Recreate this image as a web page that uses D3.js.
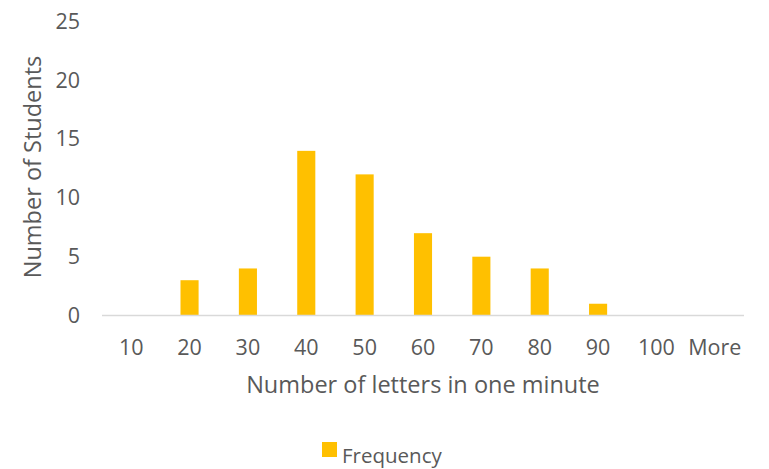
<!DOCTYPE html>
<html><head><meta charset="utf-8">
<script src="https://cdn.jsdelivr.net/npm/d3@7"></script>
<style>body{margin:0;background:#fff}svg{display:block}text{font-family:"Open Sans",sans-serif;fill:#595959}</style>
</head><body><svg id="c" width="769" height="469"></svg>
<script>
const categories = ["10","20","30","40","50","60","70","80","90","100","More"];
const frequency = [0,3,4,14,12,7,5,4,1,0,0];
const yTicks = [0,5,10,15,20,25];
const seriesName = "Frequency";
const xTitle = "Number of letters in one minute";
const yTitle = "Number of Students";

(function(){
const svg = d3.select("#c");
const mL = 102, mR = 744, mT = 21.5, mB = 315.5;
const x = d3.scaleBand().domain(categories).range([mL, mR]).paddingInner(0.69).paddingOuter(0.345);
const y = d3.scaleLinear().domain([0,25]).range([mB, mT]);

svg.append("g").selectAll("rect").data(frequency).join("rect")
  .attr("x",(d,i)=>x(categories[i])).attr("width",x.bandwidth())
  .attr("y",d=>y(d)).attr("height",d=>y(0)-y(d)).attr("fill","#FFC000");

svg.append("line").attr("x1",mL).attr("x2",mR).attr("y1",mB).attr("y2",mB)
  .attr("stroke","#d9d9d9").attr("stroke-width",1.5);

const yAxis = svg.append("g").attr("transform",`translate(${mL},0)`)
  .call(d3.axisLeft(y).tickValues(yTicks).tickSize(0).tickPadding(22));
yAxis.select(".domain").remove();
yAxis.selectAll("text").style("font-family","'Open Sans',sans-serif").style("font-size","21.5px").attr("fill","#595959");

const xAxis = svg.append("g").attr("transform",`translate(0,${mB})`)
  .call(d3.axisBottom(x).tickSize(0).tickPadding(24));
xAxis.select(".domain").remove();
xAxis.selectAll("text").style("font-family","'Open Sans',sans-serif").style("font-size","21.5px").attr("fill","#595959");

svg.append("text").attr("x",423).attr("y",393).attr("text-anchor","middle")
  .style("font-size","23.5px").text(xTitle);
svg.append("text").attr("transform","translate(41,167) rotate(-90)").attr("text-anchor","middle")
  .style("font-size","23.5px").text(yTitle);

svg.append("rect").attr("x",322).attr("y",442).attr("width",15).attr("height",15).attr("fill","#FFC000");
svg.append("text").attr("x",342).attr("y",463).style("font-size","20.5px").text(seriesName);
})();
</script></body></html>
